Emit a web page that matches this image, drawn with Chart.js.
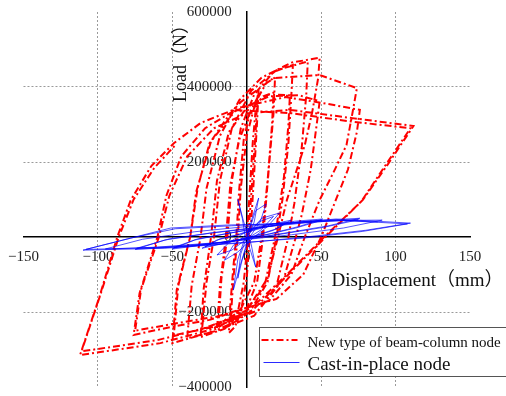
<!DOCTYPE html>
<html lang="en">
<head>
  <meta charset="UTF-8">
  <title>Hysteresis curves</title>
  <style>
    html, body { margin: 0; padding: 0; background: #fff; }
    #grafico { display: block; }
  </style>
  <script src="https://cdn.jsdelivr.net/npm/chart.js"></script>
</head>
<body>
<canvas id="grafico" width="506" height="396"></canvas>
<script>
  // axis ticks
  const dispTicks = [-150, -100, -50, 0, 50, 100, 150];
  const loadTicks = [-400000, -200000, 0, 200000, 400000, 600000];

  const xTitle = 'Displacement（mm）';
  const yTitle = 'Load（N）';
  const seriesNames = ['New type of beam-column node', 'Cast-in-place node'];

  // New type of beam-column node: [displacement mm, load N]
  const newNodeCurve = [
    [0, 0], [2, 120000], [4, 250000], [6, 340000], [8, 395000],
    [7, 310000], [5, 170000], [3, 40000], [2, 0], [0, -110000], [-4, -200000], [-8, -240000], [-12, -256000],
    [-11, -180000], [-9, -80000], [-7, 0], [-5, 130000],
    [-2, 260000], [2, 330000], [7, 370000],
    [6, 280000], [3, 110000], [1, 0], [-2, -120000], [-6, -200000], [-11, -235000],
    [-9, -110000], [-6, 0],
    [-4, 130000], [0, 270000], [6, 360000], [13, 410000], [19, 425000],
    [18, 330000], [15, 190000], [11, 0], [7, -120000], [0, -190000], [-10, -230000], [-20, -248000],
    [-18, -130000], [-14, 0],
    [-11, 140000], [-5, 260000], [3, 340000], [11, 375000], [18, 385000],
    [17, 300000], [14, 150000], [10, 0], [5, -120000], [-5, -200000], [-19, -232000],
    [-17, -110000], [-13, 0],
    [-10, 150000], [-4, 290000], [5, 380000], [18, 440000], [31, 459000],
    [30, 380000], [28, 250000], [24, 100000], [20, 0], [14, -120000], [2, -200000], [-15, -245000], [-31, -267000],
    [-29, -140000], [-24, 0],
    [-20, 150000], [-12, 280000], [0, 345000], [15, 380000], [29, 378000],
    [28, 300000], [25, 160000], [19, 0], [12, -130000], [-2, -205000], [-30, -245000],
    [-27, -120000], [-22, 0],
    [-18, 150000], [-10, 290000], [3, 390000], [20, 445000], [41, 468000],
    [40, 380000], [37, 240000], [32, 90000], [28, 0], [20, -130000], [5, -210000], [-20, -250000], [-40, -270000],
    [-37, -130000], [-31, 0],
    [-27, 130000], [-18, 270000], [-5, 365000], [10, 425000], [30, 465000], [49, 478000],
    [48, 424000], [44, 333000], [39, 245000], [27, 99000], [21, 0], [14, -110000], [0, -195000], [-25, -255000], [-50, -283000],
    [-47, -140000], [-38, 0],
    [-34, 120000], [-24, 255000], [-8, 335000], [15, 375000], [35, 378000], [49, 362000],
    [47, 300000], [43, 180000], [37, 60000], [33, 0], [25, -110000], [8, -195000], [-20, -238000], [-49, -262000],
    [-46, -130000], [-38, 0],
    [-33, 130000], [-25, 250000], [-12, 325000], [-4, 360000], [18, 424000], [49, 432000], [74, 397000],
    [71, 330000], [67, 245000], [58, 170000], [49, 99000], [39, 0], [30, -100000], [15, -170000], [-25, -221000], [-51, -240000], [-76, -261000],
    [-72, -150000], [-60, 0],
    [-54, 110000], [-44, 215000], [-28, 290000], [-5, 345000], [26, 373000], [50, 358000], [76, 339000],
    [74, 280000], [68, 180000], [56, 60000], [50, 0], [38, -100000], [20, -165000], [-20, -212000], [-50, -232000], [-75, -250000],
    [-71, -140000], [-59, 0],
    [-52, 110000], [-40, 215000], [-22, 290000], [0, 330000], [29, 339000], [71, 317000], [112, 296000],
    [95, 195000], [78, 99000], [53, 0], [28, -100000], [4, -195000], [-25, -248000], [-58, -283000], [-112, -315000],
    [-99, -160000], [-87, 0], [-78, 98000],
    [-64, 190000], [-49, 250000], [-31, 304000], [-9, 339000], [30, 330000], [70, 308000], [110, 290000],
    [93, 190000], [77, 95000], [52, 0], [27, -100000], [3, -190000], [-25, -240000], [-60, -275000], [-111, -305000],
    [-98, -150000], [-86, 0], [-76, 100000], [-62, 185000], [-48, 245000]
  ];

  // Cast-in-place node: [displacement mm, load N]
  const castNodeCurve = [
    [0, 0], [4, 55000], [8, 104000], [5, 40000], [1, 0], [-3, -60000], [-6, -110000], [-4, -45000], [0, 0],
    [6, 70000], [13, 88000], [9, 40000], [2, 0], [-4, -70000], [-9, -141000], [-6, -60000], [-1, 0],
    [-3, 50000], [-6, 100000], [-2, 40000], [3, -20000], [6, -80000], [2, -30000], [0, 0],
    [10, 50000], [22, 64000], [14, 28000], [5, 0], [-6, -40000], [-15, -62000], [-9, -22000], [0, 8000],
    [8, 40000], [18, 55000], [10, 20000], [0, -5000], [-10, -35000], [-20, -48000], [-12, -15000], [-2, 10000],
    [12, 30000], [30, 45000], [20, 22000], [6, 4000], [-10, -12000], [-30, -30000], [-20, -8000], [-6, 6000],
    [10, 30000], [28, 40000], [18, 18000], [5, 2000], [-12, -14000], [-28, -26000], [-18, -5000], [-4, 8000],
    [12, 26000], [32, 42000], [51, 48000], [35, 28000], [15, 8000], [-10, -10000], [-30, -22000], [-50, -32000], [-35, -8000], [-15, 8000],
    [15, 28000], [35, 40000], [50, 44000], [33, 24000], [12, 5000], [-12, -12000], [-32, -22000], [-49, -28000], [-33, -5000], [-12, 10000],
    [10, 26000], [40, 42000], [76, 50000], [55, 30000], [25, 10000], [-10, -12000], [-45, -26000], [-75, -33000], [-55, -8000], [-25, 10000],
    [15, 28000], [45, 40000], [75, 46000], [52, 26000], [22, 7000], [-12, -13000], [-48, -25000], [-74, -30000], [-52, -5000], [-22, 12000],
    [20, 32000], [55, 44000], [91, 45000], [65, 24000], [30, 6000], [-20, -15000], [-60, -27000], [-95, -32000], [-70, -6000], [-35, 14000],
    [10, 32000], [60, 48000], [110, 37000], [80, 18000], [40, 0], [0, -15000], [-55, -30000], [-110, -35000], [-80, -5000], [-51, 24000],
    [-13, 32000], [20, 35000], [65, 44000], [108, 35000], [78, 15000], [38, -3000], [0, -14000], [-55, -28000], [-108, -33000],
    [-78, -3000], [-48, 22000], [-10, 30000], [30, 38000], [60, 45000], [88, 40000]
  ];

  const serif = '"Liberation Serif", "Times New Roman", "Noto Sans CJK SC", serif';
  Chart.defaults.font.family = serif;
  Chart.defaults.font.size = 15;
  Chart.defaults.color = '#222';

  const toPoints = arr => arr.map(p => ({ x: p[0], y: p[1] }));
  const minusSign = v => (v < 0 ? '\u2212' + Math.abs(v) : String(v));

  function gridColor(ticks) {
    return ctx => {
      const v = ctx.tick ? ctx.tick.value : null;
      if (v === 0 || v === ticks[0] || v === ticks[ticks.length - 1]) return 'rgba(0,0,0,0)';
      return '#9a9a9a';
    };
  }

  // axis titles and the boxed legend
  const decorations = {
    id: 'decorations',
    afterDraw(chart) {
      const { ctx, scales: { x, y } } = chart;
      const x0 = x.getPixelForValue(0);
      const y0 = y.getPixelForValue(0);

      ctx.save();
      ctx.fillStyle = '#111';
      ctx.font = '18px ' + serif;
      ctx.translate(x0 - 61, y.getPixelForValue(400000) + 15);
      ctx.rotate(-Math.PI / 2);
      ctx.textAlign = 'left';
      ctx.textBaseline = 'alphabetic';
      ctx.fillText(yTitle, 0, 0);
      ctx.restore();

      ctx.save();
      ctx.fillStyle = '#111';
      ctx.font = '19px ' + serif;
      ctx.textAlign = 'left';
      ctx.textBaseline = 'alphabetic';
      ctx.fillText(xTitle, x.getPixelForValue(57), y0 + 49);
      ctx.restore();

      // legend
      const lx = Math.round(x0 + 12) + 0.5;
      const ly = Math.round(y.getPixelForValue(-240000)) + 0.5;
      ctx.save();
      ctx.fillStyle = '#fff';
      ctx.fillRect(lx, ly, 247, 49);
      ctx.strokeStyle = '#555';
      ctx.lineWidth = 1;
      ctx.strokeRect(lx, ly, 247, 49);

      ctx.strokeStyle = '#ff0000';
      ctx.lineWidth = 2;
      ctx.setLineDash([7, 3, 2, 3]);
      ctx.beginPath();
      ctx.moveTo(lx + 2, ly + 12.5);
      ctx.lineTo(lx + 38, ly + 12.5);
      ctx.stroke();

      ctx.strokeStyle = '#2a2aff';
      ctx.lineWidth = 1;
      ctx.setLineDash([]);
      ctx.beginPath();
      ctx.moveTo(lx + 4, ly + 35);
      ctx.lineTo(lx + 40, ly + 35);
      ctx.stroke();

      ctx.fillStyle = '#111';
      ctx.textAlign = 'left';
      ctx.textBaseline = 'alphabetic';
      ctx.font = '15px ' + serif;
      ctx.fillText(seriesNames[0], lx + 48, ly + 19);
      ctx.font = '19px ' + serif;
      ctx.fillText(seriesNames[1], lx + 48, ly + 42);
      ctx.restore();
    }
  };

  const ctx = document.getElementById('grafico').getContext('2d');

  const chart = new Chart(ctx, {
    type: 'scatter',
    data: {
      datasets: [{
        label: seriesNames[0],
        data: toPoints(newNodeCurve),
        showLine: true,
        borderColor: '#ff0000',
        borderWidth: 2,
        borderDash: [7, 3, 2, 3],
        pointRadius: 0,
        tension: 0,
        order: 1
      }, {
        label: seriesNames[1],
        data: toPoints(castNodeCurve),
        showLine: true,
        borderColor: 'rgba(0, 0, 255, 0.85)',
        borderWidth: 0.8,
        pointRadius: 0,
        tension: 0,
        order: 0
      }]
    },
    options: {
      responsive: false,
      animation: false,
      layout: { padding: { left: 23, right: 36, top: 12, bottom: 9 } },
      plugins: {
        legend: { display: false },
        tooltip: { enabled: false }
      },
      scales: {
        x: {
          type: 'linear',
          position: { y: 0 },
          min: dispTicks[0],
          max: dispTicks[dispTicks.length - 1],
          afterBuildTicks: s => { s.ticks = dispTicks.map(v => ({ value: v })); },
          grid: { color: gridColor(dispTicks), lineWidth: 1, drawTicks: false },
          border: { display: true, color: '#000', width: 1.5, dash: [2, 2] },
          ticks: { padding: 8, font: { lineHeight: '24px' }, callback: v => minusSign(v), color: '#222' }
        },
        y: {
          type: 'linear',
          position: { x: 0 },
          min: loadTicks[0],
          max: loadTicks[loadTicks.length - 1],
          afterBuildTicks: s => { s.ticks = loadTicks.map(v => ({ value: v })); },
          grid: { color: gridColor(loadTicks), lineWidth: 1, drawTicks: false },
          border: { display: true, color: '#000', width: 1.5, dash: [2, 2] },
          ticks: { padding: 0, callback: v => minusSign(v) + '\u2002\u2002', color: '#222' }
        }
      }
    },
    plugins: [decorations]
  });
</script>
</body>
</html>
